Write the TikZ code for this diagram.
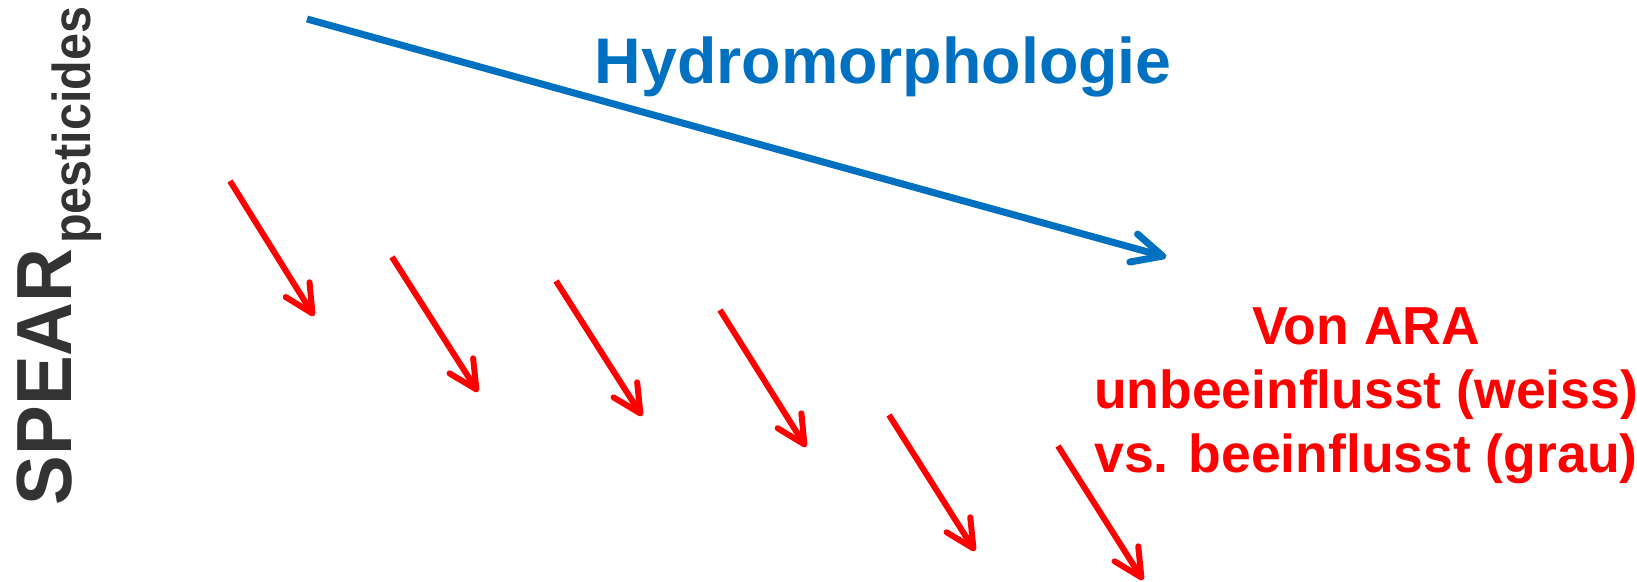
\documentclass[tikz,border=0pt]{standalone}
\usepackage{fontspec}
\setmainfont{Liberation Sans}
\usetikzlibrary{arrows.meta}
\definecolor{hblue}{HTML}{0070C0}
\definecolor{ared}{HTML}{FF0000}
\definecolor{sgray}{HTML}{333333}
\tikzset{
  bluearrow/.style={draw=hblue, line width=7pt, -{Straight Barb[length=30pt,width=29pt,round]}},
  redarrow/.style={draw=ared, line width=6pt, -{Straight Barb[length=28pt,width=28pt,round]}},
  redtext/.style={text=ared, font=\fontsize{53.5}{64}\selectfont\bfseries, inner sep=0pt, anchor=base},
}
\begin{document}
\begin{tikzpicture}[x=1pt,y=-1pt]
\useasboundingbox (0,0) rectangle (1637,581);
% y-axis label
\node[rotate=90, anchor=base west, inner sep=0pt, text=sgray, font=\fontsize{74.5}{80}\selectfont\bfseries] (spear) at (71,505.5) {\scalebox{1}[1.05]{SPEAR}};
\node[rotate=90, anchor=base west, inner sep=0pt, text=sgray, font=\fontsize{48.5}{52}\selectfont\bfseries] (sub) at (90,244) {\scalebox{1}[1.1]{pesticides}};
% Hydromorphologie
\node[anchor=base west, inner sep=0pt, text=hblue, font=\fontsize{64.5}{70}\selectfont\bfseries] (hydro) at (594.5,83) {Hydromorphologie};
\coordinate (b0) at (307,19);
\coordinate (b1) at (1166,257);
\draw[bluearrow] (b0) -- (b1);
% red text
\node[redtext] (ara1) at (1366,344) {Von ARA};
\node[redtext] (ara2) at (1366,408.5) {unbeeinflusst (weiss)};
\node[redtext] (ara3) at (1366,472) {vs. beeinflusst (grau)};
% red arrows
\coordinate (r1s) at (230,181);  \coordinate (r1e) at (314,316);
\coordinate (r2s) at (392,257);  \coordinate (r2e) at (478,392);
\coordinate (r3s) at (556,281);  \coordinate (r3e) at (642,416);
\coordinate (r4s) at (720,310);  \coordinate (r4e) at (806,447);
\coordinate (r5s) at (889,415);  \coordinate (r5e) at (975,551);
\coordinate (r6s) at (1058,446); \coordinate (r6e) at (1143,580);
\draw[redarrow] (r1s) -- (r1e);
\draw[redarrow] (r2s) -- (r2e);
\draw[redarrow] (r3s) -- (r3e);
\draw[redarrow] (r4s) -- (r4e);
\draw[redarrow] (r5s) -- (r5e);
\draw[redarrow] (r6s) -- (r6e);
\end{tikzpicture}
\end{document}
